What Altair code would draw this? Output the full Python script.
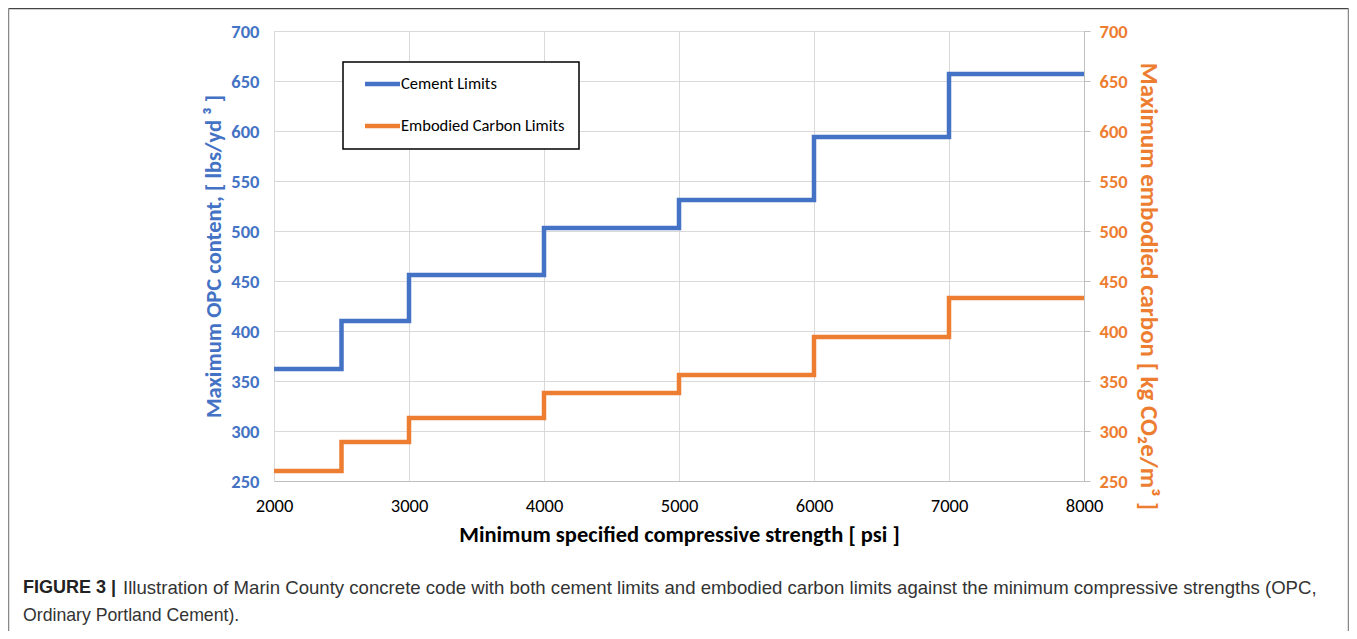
import altair as alt
import pandas as pd

# ---- data ----
strength = [2000, 2500, 3000, 4000, 5000, 6000, 7000, 8000]
cement = [362, 410, 456, 503, 531, 594, 657, 657]
carbon = [260, 289, 313, 338, 356, 394, 433, 433]
series = ["Cement Limits", "Embodied Carbon Limits"]
colors = ["#4472C4", "#ED7D31"]
x_ticks = [2000, 3000, 4000, 5000, 6000, 7000, 8000]
y_ticks = [250, 300, 350, 400, 450, 500, 550, 600, 650, 700]
caption_bold = ["FIGURE 3 |"]
caption_lines = [
    "Illustration of Marin County concrete code with both cement limits and embodied carbon limits against the minimum compressive strengths (OPC,",
    "Ordinary Portland Cement).",
]

W, H = 810, 450
PL, PT = 266, 23
TOTAL_W, TOTAL_H = 1341, 623

df = pd.DataFrame({
    "strength": strength * 2,
    "value": cement + carbon,
    "series": [series[0]] * len(strength) + [series[1]] * len(strength),
})

FONT = "Carlito, Open Sans"
xscale = alt.Scale(domain=[2000, 8000], nice=False, zero=False)
yscale = alt.Scale(domain=[250, 700], nice=False, zero=False)

x_axis = alt.Axis(
    values=x_ticks, format="d", title="Minimum specified compressive strength [ psi ]",
    titleFont=FONT, titleFontSize=22.5, titleFontWeight="bold", titleColor="black", titlePadding=9,
    labelFont=FONT, labelFontSize=18.5, labelColor="black", labelPadding=15, labelFlush=False,
    ticks=False, grid=True, gridColor="#D9D9D9", domainColor="#BFBFBF")

left = alt.Chart(df).transform_filter(alt.datum.series == series[0]).mark_line(
    interpolate="step-after", strokeWidth=4.5, color=colors[0]
).encode(
    x=alt.X("strength:Q", scale=xscale, axis=x_axis),
    y=alt.Y("value:Q", scale=yscale, axis=alt.Axis(
        orient="left", values=y_ticks, title="Maximum OPC content, [ lbs/yd ³ ]",
        titleFont=FONT, titleFontSize=22.5, titleFontWeight="bold", titleColor=colors[0], titlePadding=5,
        labelFont=FONT, labelFontSize=18.5, labelFontWeight="bold", labelColor=colors[0], labelPadding=15,
        labelFlush=False,
        ticks=False, grid=True, gridColor="#D9D9D9", domainColor="#D9D9D9")),
)

right = alt.Chart(df).transform_filter(alt.datum.series == series[1]).mark_line(
    interpolate="step-after", strokeWidth=4.5, color=colors[1]
).encode(
    x=alt.X("strength:Q", scale=xscale, axis=x_axis),
    y=alt.Y("value:Q", scale=yscale, axis=alt.Axis(
        orient="right", values=y_ticks, title="Maximum embodied carbon [ kg CO₂e/m³ ]",
        titleFont=FONT, titleFontSize=25, titleFontWeight="bold", titleColor=colors[1], titlePadding=8,
        titleY=255,
        labelFont=FONT, labelFontSize=18.5, labelFontWeight="bold", labelColor=colors[1], labelPadding=9,
        labelFlush=False,
        ticks=True, tickSize=6, tickColor="#BFBFBF", grid=False, domainColor="#BFBFBF")),
)

# ---- legend box (manual, matching Excel style) ----
leg = pd.DataFrame({"series": series, "color": colors, "ly": [53, 95]})
legend_box = alt.Chart(pd.DataFrame({"a": [0]})).mark_rect(
    fill="white", stroke="black", strokeWidth=1.5
).encode(x=alt.value(69), x2=alt.value(305), y=alt.value(31), y2=alt.value(118))
legend_sym = alt.Chart(leg).mark_rule(strokeWidth=4.5).encode(
    x=alt.value(91), x2=alt.value(126), y=alt.Y("ly:Q", scale=None),
    color=alt.Color("color:N", scale=None))
legend_txt = alt.Chart(leg).mark_text(
    align="left", baseline="middle", font=FONT, fontSize=16.5, color="black"
).encode(x=alt.value(127), y=alt.Y("ly:Q", scale=None), text="series:N")

# ---- figure frame and caption ----
frame = pd.DataFrame({
    "x": [-PL + 0.5, -PL + 0.5, TOTAL_W - PL - 0.5],
    "x2": [TOTAL_W - PL - 0.5, -PL + 0.5, TOTAL_W - PL - 0.5],
    "y": [-PT + 0.5, -PT + 0.5, -PT + 0.5],
    "y2": [-PT + 0.5, TOTAL_H - PT, TOTAL_H - PT],
    "c": ["#444444", "#888888", "#888888"],
})
frame_rules = alt.Chart(frame).mark_rule(strokeWidth=1.5).encode(
    x=alt.X("x:Q", scale=None), x2="x2:Q", y=alt.Y("y:Q", scale=None), y2="y2:Q",
    color=alt.Color("c:N", scale=None))

cap_b = alt.Chart(pd.DataFrame({"t": caption_bold})).mark_text(
    align="left", baseline="middle", font="Liberation Sans", fontSize=18, fontWeight="bold", color="#222222"
).encode(x=alt.value(23 - PL - 8), y=alt.value(557), text="t:N")
cap1 = alt.Chart(pd.DataFrame({"t": caption_lines[:1]})).mark_text(
    align="left", baseline="middle", font="Liberation Sans", fontSize=18.6, color="#333333"
).encode(x=alt.value(123 - PL - 8), y=alt.value(557), text="t:N")
cap2 = alt.Chart(pd.DataFrame({"t": caption_lines[1:]})).mark_text(
    align="left", baseline="middle", font="Liberation Sans", fontSize=17.7, color="#333333"
).encode(x=alt.value(23 - PL - 8), y=alt.value(585), text="t:N")

chart = alt.layer(
    left, right, legend_box, legend_sym, legend_txt, frame_rules, cap_b, cap1, cap2
).resolve_scale(y="independent", x="shared").properties(
    width=W, height=H,
    autosize=alt.AutoSizeParams(type="none"),
    padding={"left": PL, "top": PT, "right": TOTAL_W - PL - W, "bottom": TOTAL_H - PT - H},
).configure_view(stroke=None).configure(background="white")

chart.save("out.html", embed_options={"renderer": "svg", "actions": False})
